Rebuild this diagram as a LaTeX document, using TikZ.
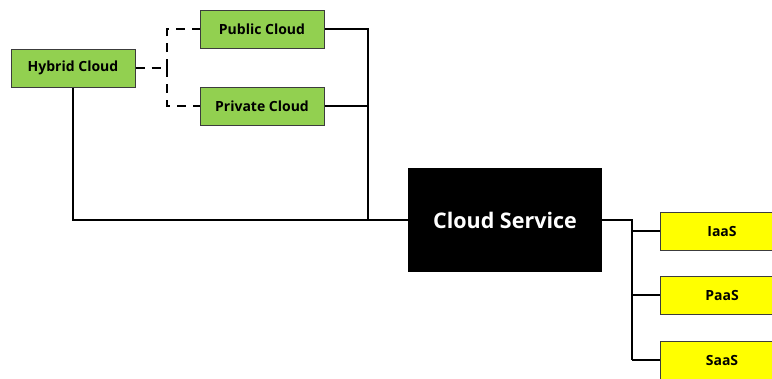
\documentclass[tikz,border=0pt]{standalone}
\usepackage{fontspec}
\setmainfont{Open Sans}
\usetikzlibrary{positioning}
\definecolor{cgreen}{RGB}{146,208,80}
\definecolor{cyellow}{RGB}{255,255,0}
\definecolor{cedge}{RGB}{60,60,60}
\tikzset{
  deploy/.style={draw=cedge,fill=cgreen,line width=1pt,minimum width=124pt,minimum height=38pt,inner sep=0pt,font=\bfseries\fontsize{14}{16}\selectfont},
  model/.style={draw=cedge,fill=cyellow,line width=1pt,minimum width=124pt,minimum height=38pt,inner sep=0pt,font=\bfseries\fontsize{14}{16}\selectfont},
  core/.style={fill=black,text=white,minimum width=194pt,minimum height=104pt,inner sep=0pt,font=\bfseries\fontsize{21.5}{25}\selectfont},
  wire/.style={line width=2.8pt,black},
  dwire/.style={wire,dash pattern=on 9pt off 7pt}
}
\begin{document}
\begin{tikzpicture}[x=1pt,y=-1pt]
    \useasboundingbox (0,0) rectangle (772,378);
    \node[deploy] (hyb) at (73,68) {Hybrid Cloud};
    \node[deploy] (pub) at (262,29) {Public Cloud};
    \node[deploy] (priv) at (262,106) {Private Cloud};
    \node[core] (svc) at (505,220) {Cloud Service};
    \foreach \name/\lbl/\y in {iaas/IaaS/231,paas/PaaS/295,saas/SaaS/360}{
      \node[model] (\name) at (722,\y) {\lbl};}
    \coordinate (hub) at (167,68);
    \coordinate (join) at (368,220);
    \coordinate (fork) at (632,220);
    % dashed links of the hybrid cloud
    \draw[dwire] (hyb.east)--(hub);
    \draw[dwire] (hub)|-(pub.west); \draw[dwire] (hub)|-(priv.west);
    % solid links to the service
    \draw[wire] (pub.east)-|(join); \draw[wire] (priv.east)--(priv.east-|join);
    \draw[wire] (hyb.south)|-(svc.west);
    \draw[wire] (svc.east)--(fork)--(fork|-saas.west);
    \foreach \name in {iaas,paas,saas}{\draw[wire] (fork|-\name.west)--(\name.west);}
\end{tikzpicture}
\end{document}
